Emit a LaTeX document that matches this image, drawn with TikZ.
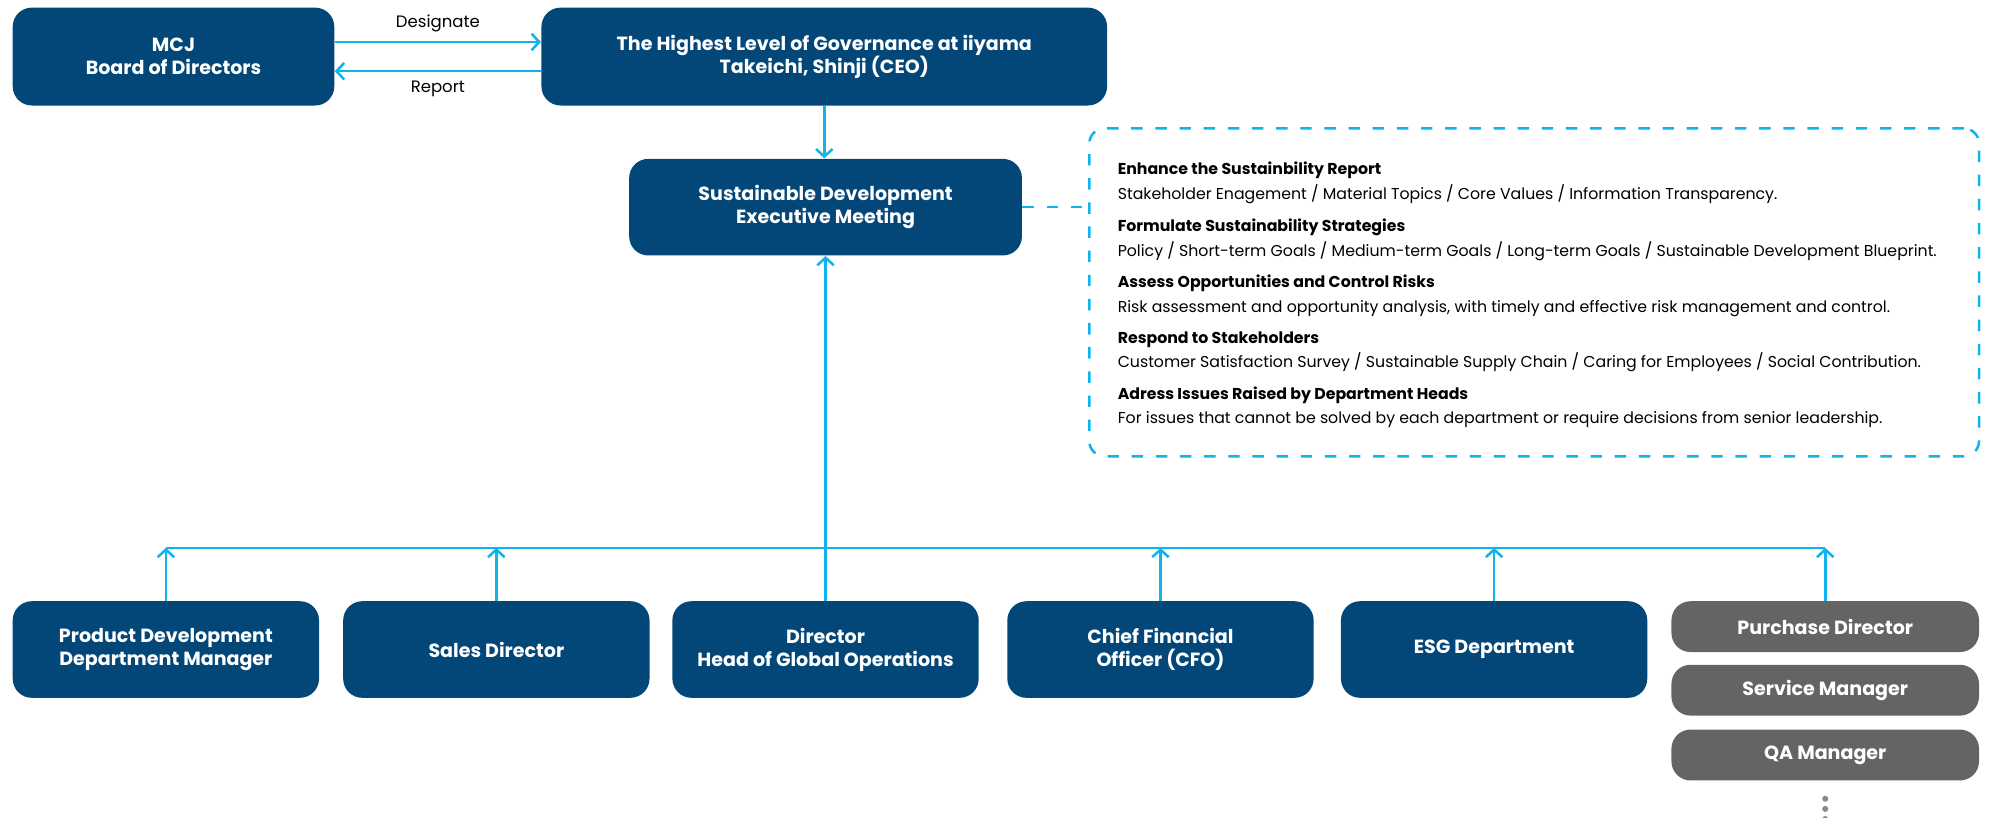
\documentclass[tikz,border=0pt]{standalone}
\usepackage{fontspec}
\setmainfont{Poppins}
\usepackage{tikz}
\usetikzlibrary{arrows.meta,positioning}
\definecolor{boxblue}{HTML}{034678}
\definecolor{boxgray}{HTML}{646464}
\definecolor{linecyan}{HTML}{10B4EC}
\definecolor{dotgray}{HTML}{8A8A8A}
\tikzset{
  box/.style={fill=boxblue, text=white, rounded corners=7.5pt, align=center, inner sep=0pt,
    font=\fontsize{7.5}{9}\selectfont\bfseries},
  lowbox/.style={box, minimum width=120.5pt, minimum height=38pt},
  graybox/.style={box, fill=boxgray, minimum width=121pt, minimum height=20pt},
  link/.style={draw=linecyan, line width=1pt},
  arr/.style={link, -{Straight Barb[length=3pt,width=6.5pt]}},
  lbl/.style={inner sep=0pt, font=\fontsize{6.5}{8}\selectfont},
  head/.style={anchor=base west, inner sep=0pt, font=\fontsize{6.2}{7}\selectfont\bfseries},
  body/.style={anchor=base west, inner sep=0pt, font=\fontsize{6.2}{7}\selectfont},
}

\begin{document}
\begin{tikzpicture}[x=0.5pt,y=-0.5pt]
\useasboundingbox (0,0) rectangle (1568,643);
% top row
\node[box, minimum width=126.5pt, minimum height=38.5pt] (mcj) at (136.5,44.5) {MCJ\\Board of Directors};
\node[box, minimum width=222.5pt, minimum height=38.5pt] (top) at (648.5,44.5) {The Highest Level of Governance at iiyama\\Takeichi, Shinji (CEO)};
\node[box, minimum width=154.5pt, minimum height=38pt] (sdem) at (649.5,163) {Sustainable Development\\Executive Meeting};
\draw[arr] ([yshift=5.75pt]mcj.east) -- node[lbl, above=3.5pt] (desig) {Designate} ([yshift=5.75pt]top.west);
\draw[arr] ([yshift=-5.75pt]top.west) -- node[lbl, below=3.5pt] (rep) {Report} ([yshift=-5.75pt]mcj.east);
\draw[arr] (top.south) -- (top.south |- sdem.north);

% tasks of the meeting
\node[draw=linecyan, line width=1pt, dash pattern=on 4.5pt off 5pt, rounded corners=6pt,
  minimum width=350pt, minimum height=129pt] (tasks) at (1207,230) {};
\draw[link, dash pattern=on 4.5pt off 5pt] (sdem.east) -- (sdem.east -| tasks.west);
\node[head] (h1) at (879,137) {Enhance the Sustainbility Report};
\node[body] (b1) at (879,157) {Stakeholder Enagement / Material Topics / Core Values / Information Transparency.};
\node[head] (h2) at (879,182) {Formulate Sustainability Strategies};
\node[body] (b2) at (879,202) {Policy / Short-term Goals / Medium-term Goals / Long-term Goals / Sustainable Development Blueprint.};
\node[head] (h3) at (879,226) {Assess Opportunities and Control Risks};
\node[body] (b3) at (879,246) {Risk assessment and opportunity analysis, with timely and effective risk management and control.};
\node[head] (h4) at (879,270) {Respond to Stakeholders};
\node[body] (b4) at (879,289) {Customer Satisfaction Survey / Sustainable Supply Chain / Caring for Employees / Social Contribution.};
\node[head] (h5) at (879,314) {Adress Issues Raised by Department Heads};
\node[body] (b5) at (879,333) {For issues that cannot be solved by each department or require decisions from senior leadership.};

% departments
\node[lowbox] (pd) at (130.5,511) {Product Development\\Department Manager};
\node[lowbox] (sales) at (390.5,511) {Sales Director};
\node[lowbox] (dir) at (649.5,511) {Director\\Head of Global Operations};
\node[lowbox] (cfo) at (913,511) {Chief Financial\\Officer (CFO)};
\node[lowbox] (esg) at (1175.5,511) {ESG Department};
\node[graybox] (pur) at (1436,493) {Purchase Director};
\node[graybox] (svc) at (1436,543) {Service Manager};
\node[graybox] (qa) at (1436,594) {QA Manager};
\fill[dotgray] ([yshift=-7pt]qa.south) circle (1.2pt);
\fill[dotgray] ([yshift=-11pt]qa.south) circle (1.2pt);
\fill[dotgray] ([yshift=-15pt]qa.south) circle (1.2pt);

% reporting lines
\coordinate (bus) at (649.5,431);
\draw[arr] (dir.north) -- (sdem.south);
\draw[link] (pd.north |- bus) -- (pur.north |- bus);
\draw[arr] (pd.north) -- (pd.north |- bus);
\draw[arr] (sales.north) -- (sales.north |- bus);
\draw[arr] (cfo.north) -- (cfo.north |- bus);
\draw[arr] (esg.north) -- (esg.north |- bus);
\draw[arr] (pur.north) -- (pur.north |- bus);
\end{tikzpicture}
\end{document}
